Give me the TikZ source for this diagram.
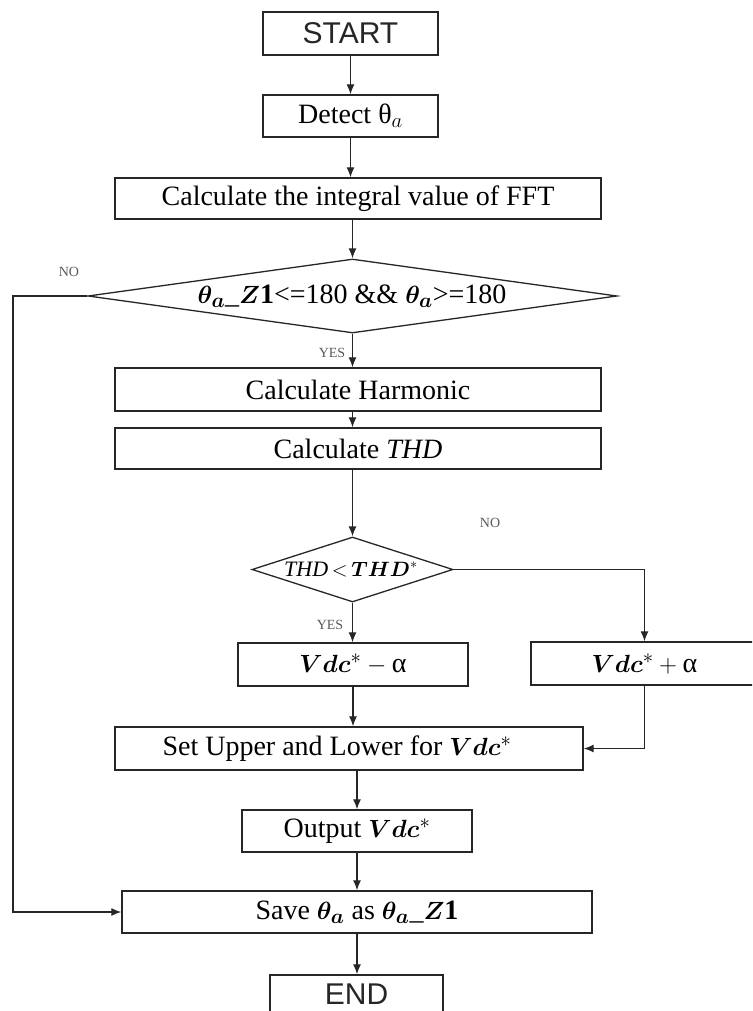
\documentclass[tikz,border=0pt]{standalone}
\usepackage{amsmath,bm}
\usepackage{fontspec}
\setmainfont{Liberation Serif}
\newfontfamily\termfont{Liberation Sans}
\usetikzlibrary{arrows.meta,shapes.geometric}
\begin{document}
\begin{tikzpicture}[x=1pt,y=-1pt,
  box/.style={draw=black!85, line width=1.4pt, inner sep=0pt, font=\fontsize{28}{32}\selectfont},
  term/.style={box, text=black!85, font=\termfont\fontsize{30}{34}\selectfont},
  dia/.style={draw=black!85, line width=1.3pt, shape=diamond, inner sep=0pt},
  lbl/.style={font=\fontsize{14}{16}\selectfont, text=black!65, inner sep=0pt},
  txt/.style={font=\fontsize{28}{32}\selectfont, inner sep=0pt},
  arr/.style={-{Latex[length=10pt,width=8pt]}, line width=1.3pt, draw=black!85}]
\clip (0,0) rectangle (752,1011);
\node[term, minimum width=175pt, minimum height=43pt] (start) at (350.5,33.5) {START};
\node[box, minimum width=175pt, minimum height=42pt] (detect) at (350.5,116) {Detect θ$_{a}$};
\node[box, minimum width=486pt, minimum height=41pt] (fft) at (358,198.5) {Calculate the integral value of FFT};
\node[dia, minimum width=529pt, minimum height=74pt] (d1) at (352.5,296) {};
\node[txt] (d1t) at (352,296) {$\bm{\theta}_{\bm{a}}$\_$\bm{Z}\mathbf{1}$<=180 \&\& $\bm{\theta}_{\bm{a}}$>=180};
\node[box, minimum width=486pt, minimum height=43pt] (harm) at (358,389.5) {Calculate Harmonic};
\node[box, minimum width=486pt, minimum height=41pt] (thd) at (358,448.5) {Calculate \textit{THD}};
\node[dia, minimum width=201pt, minimum height=65pt] (d2) at (352.5,569.5) {};
\node[txt, font=\fontsize{22}{26}\selectfont] (d2t) at (351,569.5) {\textit{THD}\,$<$\,$\bm{THD}^{*}$};
\node[box, minimum width=230pt, minimum height=43pt] (vm) at (353,664.5) {$\bm{Vdc}^{*} - \text{α}$};
\node[box, minimum width=227pt, minimum height=43pt] (vp) at (644.5,663.5) {$\bm{Vdc}^{*} + \text{α}$};
\node[box, minimum width=468pt, minimum height=43pt] (set) at (349,748.5) {\hspace*{-24pt}Set Upper and Lower for $\bm{Vdc}^{*}$};
\node[box, minimum width=230pt, minimum height=42pt] (out) at (357,831) {Output $\bm{Vdc}^{*}$};
\node[box, minimum width=470pt, minimum height=42pt] (save) at (357,912) {Save $\bm{\theta}_{\bm{a}}$ as $\bm{\theta}_{\bm{a}}$\_$\bm{Z}\mathbf{1}$};
\node[term, minimum width=173pt, minimum height=38pt] (endn) at (356.5,994) {END};
\node[lbl] (no1) at (69,272) {NO};
\node[lbl] (yes1) at (332,353) {YES};
\node[lbl] (no2) at (490,523) {NO};
\node[lbl] (yes2) at (330,625) {YES};
\coordinate (lp) at (13,296);
\draw[arr] (start) -- (detect);
\draw[arr] (detect.south) -- (detect.south |- fft.north);
\draw[arr] (d1.north |- fft.south) -- (d1.north);
\draw[arr] (d1.south) -- (d1.south |- harm.north);
\draw[arr] (harm.south -| d1.south) -- (thd.north -| d1.south);
\draw[arr] (thd.south -| d2.north) -- (d2.north);
\draw[arr] (d2.south) -- (d2.south |- vm.north);
\draw[arr] (d2.east) -| (vp.north);
\draw[arr] (vm.south) -- (vm.south |- set.north);
\draw[arr] (vp.south) |- (set.east);
\draw[arr] (set.south -| out.north) -- (out.north);
\draw[arr] (out) -- (save);
\draw[arr] (save.south) -- (save.south |- endn.north);
\draw[arr] (d1.west) -- (lp) |- (save.west);
\end{tikzpicture}
\end{document}
